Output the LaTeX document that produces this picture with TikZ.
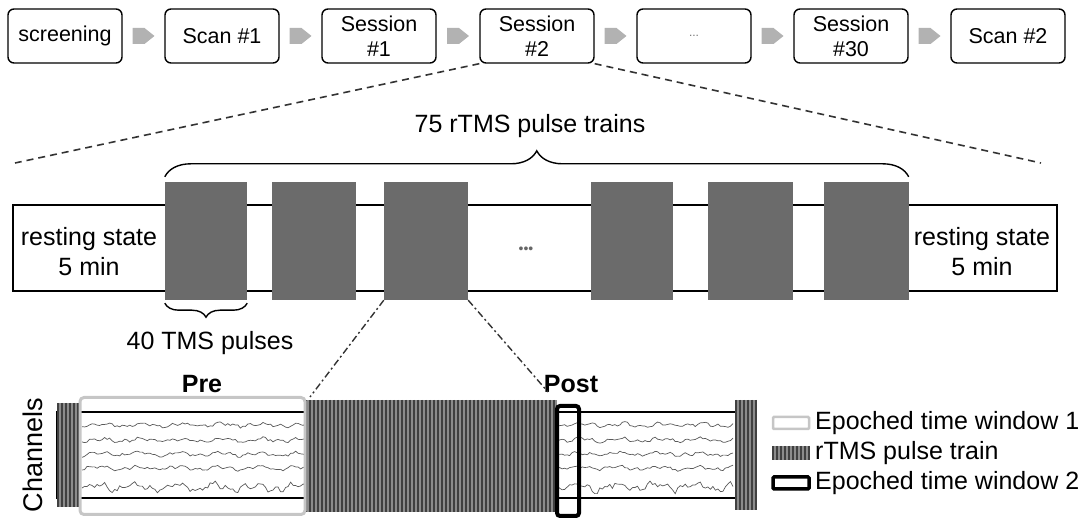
\documentclass[tikz,border=0pt]{standalone}
\usepackage{fontspec}
\setmainfont{Liberation Sans}
\usetikzlibrary{decorations.pathreplacing,calc}
\begin{document}
\begin{tikzpicture}[x=1pt,y=-1pt,
  topbox/.style={draw=black, line width=1.4pt, rounded corners=6pt, minimum width=114pt, minimum height=54pt, inner sep=0pt, align=center, font=\fontsize{21.5}{25}\selectfont},
  flowarrow/.style={fill=gray!60},
  link/.style={draw=black!80, line width=1.6pt, dash pattern=on 7pt off 5pt},
  zoomlink/.style={draw=black!80, line width=1.4pt, dash pattern=on 7pt off 3pt on 2pt off 3pt},
  train/.style={fill=black!58, inner sep=0pt},
  bracestyle/.style={draw=black, line width=1.4pt, decorate},
  lbl/.style={font=\fontsize{25}{30}\selectfont, inner sep=0pt, align=center},
  trace/.style={draw=black!65, line width=0.7pt},
  stripes/.style={fill=black!45, inner sep=0pt},
  win1/.style={draw=gray!45, line width=3pt, rounded corners=4pt, inner sep=0pt},
  win2/.style={draw=black, line width=4pt, rounded corners=3pt, inner sep=0pt},
]
\useasboundingbox (0,0) rectangle (1088,518);

% ---------- top row ----------
\node[topbox] (b1) at (65,36) {screening};
\node[topbox] (b2) at (222,36) {Scan \#1};
\node[topbox] (b3) at (379,36) {Session\\\#1};
\node[topbox] (b4) at (537,36) {Session\\\#2};
\node[topbox] (b5) at (694,36) {\textcolor{black!55}{\fontsize{12}{12}\selectfont ...}};
\node[topbox] (b6) at (851,36) {Session\\\#30};
\node[topbox] (b7) at (1008,36) {Scan \#2};
\foreach \a/\b in {b1/b2,b2/b3,b3/b4,b4/b5,b5/b6,b6/b7}{
  \fill[flowarrow] ($(\a.east)!0.5!(\b.west)$) +(-11,-8) -- +(1,-8) -- +(11,0) -- +(1,8) -- +(-11,8) -- cycle;
}

% zoom lines from Session #2
\coordinate (zl) at (15,163);
\coordinate (zr) at (1041,163);
\draw[link] (b4.south west) -- (zl);
\draw[link] (b4.south east) -- (zr);

% ---------- session bar ----------
\node[draw=black, line width=1.4pt, minimum width=1044pt, minimum height=86pt, inner sep=0pt] (bar) at (535,248) {};
\node[train, minimum width=82pt, minimum height=118pt] (t1) at (206,241) {};
\node[train, minimum width=84pt, minimum height=118pt] (t2) at (314,241) {};
\node[train, minimum width=84pt, minimum height=118pt] (t3) at (426,241) {};
\node[train, minimum width=82pt, minimum height=118pt] (t4) at (632,241) {};
\node[train, minimum width=85pt, minimum height=118pt] (t5) at (750,241) {};
\node[train, minimum width=85pt, minimum height=118pt] (t6) at (866,241) {};
\node[lbl] (rs1) at (89,252) {resting state\\5 min};
\node[lbl] (rs2) at (982,252) {resting state\\5 min};
\node[font=\fontsize{14}{14}\selectfont, text=black!60] (dots) at (526,250) {•••};

\draw[bracestyle, decoration={brace, amplitude=26pt}] ($(t1.north west)+(0,-5)$) -- ($(t6.north east)+(0,-5)$);
\node[lbl] (n75) at (530,126) {75 rTMS pulse trains};
\draw[bracestyle, decoration={brace, amplitude=14pt}] ($(t1.south east)+(0,3)$) -- ($(t1.south west)+(0,3)$);
\node[lbl] (n40) at (210,343) {40 TMS pulses};

% ---------- channel recording ----------
\node[lbl, font=\fontsize{27}{30}\selectfont, rotate=90] (chan) at (33,455) {Channels};
\node[draw=black, line width=1.4pt, minimum width=698pt, minimum height=86pt, inner sep=0pt] (eeg) at (406,455) {};
\pgfmathsetseed{11}
\foreach \yb/\am in {425/2,440/2,454/2,468/2,487/4}{
  \draw[trace] plot[domain=82:733, samples=260] (\x,{\yb + \am*(0.7*sin(9*(\x-400)+\yb)+0.5*sin(23*(\x-400)+2*\yb)+0.6*rand)});
}
\node[stripes, minimum width=252pt, minimum height=112pt] (rtms) at (431,456) {};
\node[stripes, minimum width=23pt, minimum height=104pt] (lb) at (68.5,455) {};
\node[stripes, minimum width=22pt, minimum height=110pt] (rb) at (746,455) {};
\foreach \x in {306,310,...,554}{ \draw[black!75, line width=1.1pt] (\x,400) -- (\x,512); }
\foreach \x in {58,62,...,78}{ \draw[black!75, line width=1.1pt] (\x,403) -- (\x,507); }
\foreach \x in {736,740,...,756}{ \draw[black!75, line width=1.1pt] (\x,400) -- (\x,510); }
\node[win1, minimum width=225pt, minimum height=117pt] (w1) at (192.5,456) {};
\node[win2, minimum width=22pt, minimum height=110pt] (post) at (568,461) {};
\node[lbl, font=\fontsize{25}{30}\bfseries] (pre) at (202,384) {Pre};
\node[lbl, font=\fontsize{25}{30}\bfseries] (postl) at (571,384) {Post};

\coordinate (dl) at (310,397);
\coordinate (dr) at (548,392);
\draw[zoomlink] (t3.south west) -- (dl);
\draw[zoomlink] (t3.south east) -- (dr);

% ---------- legend ----------
\node[win1, rounded corners=1pt, line width=2.5pt, minimum width=36pt, minimum height=12pt] (sw1) at (791,423) {};
\node[lbl, anchor=west] (lg1) at (815,423) {Epoched time window 1};
\node[stripes, minimum width=38pt, minimum height=14pt] (sw2) at (791,453) {};
\foreach \x in {773,777,...,809}{ \draw[black!75, line width=1.1pt] (\x,446) -- (\x+0,460); }
\node[lbl, anchor=west] (lg2) at (815,453) {rTMS pulse train};
\node[win2, line width=3.5pt, rounded corners=1pt, minimum width=36pt, minimum height=12pt] (sw3) at (791,483) {};
\node[lbl, anchor=west] (lg3) at (815,483) {Epoched time window 2};
\end{tikzpicture}
\end{document}
